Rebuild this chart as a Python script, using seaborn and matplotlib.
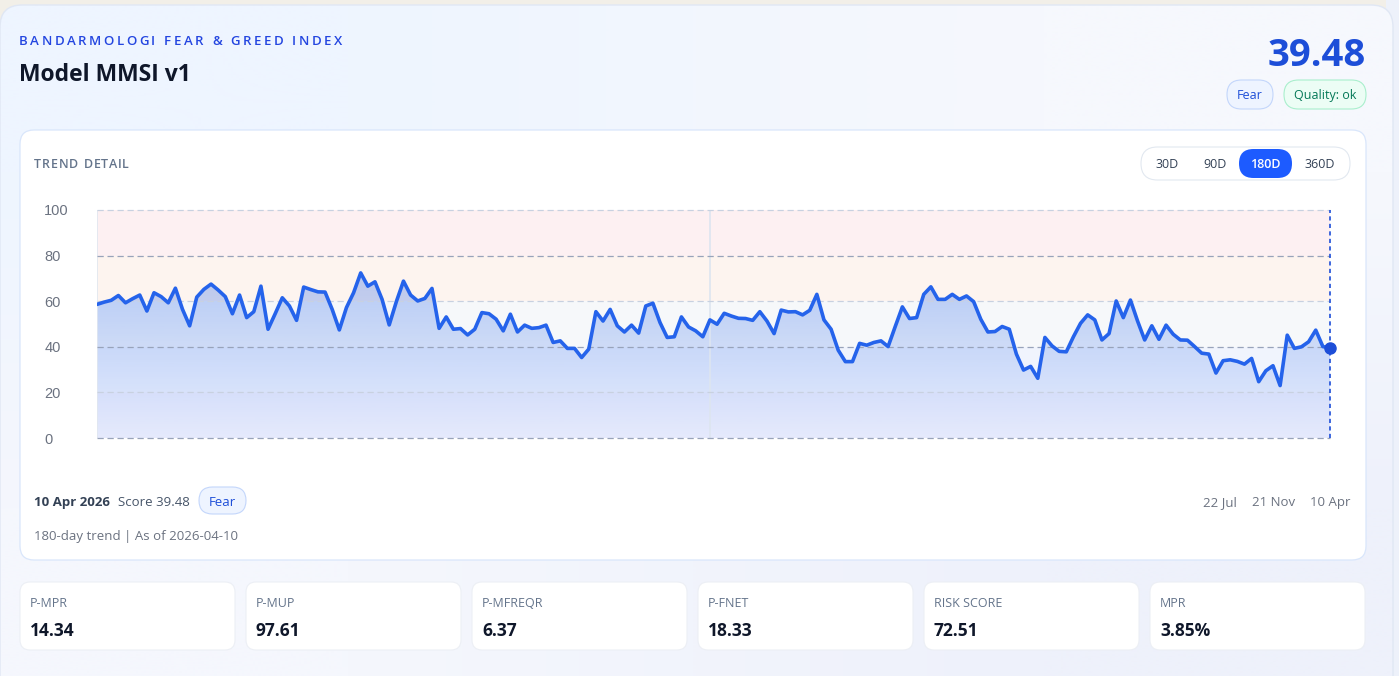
import numpy as np
import matplotlib.pyplot as plt
import matplotlib.colors as mcolors
from matplotlib.patches import FancyBboxPatch, Rectangle
import seaborn as sns

# MMSI score, 180-day window
scores = [58.6, 59.6, 60.4, 62.5, 59.3, 61.1, 62.7, 55.7, 63.7, 62.0,
          59.3, 65.7, 56.4, 49.2, 61.8, 65.2, 67.5, 64.9, 62.0, 54.5,
          62.7, 52.8, 55.4, 66.6, 47.7, 54.5, 61.5, 57.9, 51.6, 66.2,
          65.1, 64.1, 64.0, 56.4, 47.4, 57.2, 63.7, 72.4, 66.6, 68.5,
          60.8, 49.6, 59.8, 68.8, 62.7, 60.1, 61.2, 65.6, 48.1, 53.1,
          47.7, 48.0, 45.2, 47.7, 55.0, 54.5, 52.1, 47.0, 54.3, 46.5,
          49.5, 48.1, 48.4, 49.5, 41.9, 42.6, 39.3, 39.3, 35.3, 39.0,
          55.4, 51.3, 56.4, 49.2, 46.5, 49.5, 46.0, 57.9, 59.1, 50.6,
          44.1, 44.4, 53.1, 48.7, 47.0, 44.4, 51.8, 49.9, 54.7, 53.5,
          52.5, 52.4, 51.6, 55.4, 51.3, 45.8, 56.1, 55.3, 55.4, 54.0,
          56.0, 63.0, 51.8, 47.7, 38.5, 33.5, 33.5, 41.5, 40.7, 41.9,
          42.6, 40.1, 48.9, 57.5, 52.4, 52.8, 63.0, 66.3, 60.8, 60.8,
          63.0, 60.8, 62.3, 59.8, 52.1, 46.5, 46.7, 48.9, 47.7, 36.8,
          29.8, 31.4, 26.2, 44.1, 40.4, 38.0, 37.8, 44.4, 50.3, 54.0,
          51.8, 43.0, 45.8, 60.1, 52.8, 60.5, 51.3, 43.0, 49.2, 43.3,
          49.5, 45.5, 43.0, 42.9, 40.1, 37.2, 36.8, 28.5, 33.9, 34.3,
          33.6, 32.4, 34.9, 24.7, 29.5, 31.7, 23.0, 45.1, 39.3, 40.0,
          42.2, 47.3, 40.1, 39.48]
year_break = 86  # index of the faint vertical divider

zone_edges = [0, 20, 40, 60, 80, 100]
zone_colors = ['#eef0fd', '#f0f4fd', '#f6f8fa', '#fdf4ef', '#fdf0f2']
y_ticks = [0, 20, 40, 60, 80, 100]
date_labels = ['22 Jul', '21 Nov', '10 Apr']
ranges = ['30D', '90D', '180D', '360D']
active_range = '180D'

stat_names = ['P-MPR', 'P-MUP', 'P-MFREQR', 'P-FNET', 'RISK SCORE', 'MPR']
stat_values = ['14.34', '97.61', '6.37', '18.33', '72.51', '3.85%']

current = '39.48'
label = 'Fear'
quality = 'Quality: ok'

sns.set_style('white')
plt.rcParams['font.family'] = ['Open Sans', 'DejaVu Sans']

W, H = 1399, 676
fig = plt.figure(figsize=(W / 100, H / 100), dpi=100)
fig.patch.set_facecolor('#f2efe8')

bg = fig.add_axes([0, 0, 1, 1])
bg.set_zorder(0)
bg.axis('off')


def box(x0, y0, x1, y1, r, fc, ec, lw=0.8, z=1):
    p = FancyBboxPatch((x0, y0), x1 - x0, y1 - y0,
                       boxstyle=f'round,pad=0,rounding_size={r}',
                       fc=fc, ec=ec, lw=lw, zorder=z)
    bg.add_patch(p)
    return p


def spaced(x, y, s, width, **kw):
    # text with letter spacing so that it spans `width` pixels
    r = fig.canvas.get_renderer()

    def w(t):
        probe = bg.text(0, 0, t, **kw)
        v = probe.get_window_extent(r).width
        probe.remove()
        return v
    wI = w('I')
    natural = w(s + 'I') - wI
    track = (width - natural) / (len(s) - 1)
    for i, ch in enumerate(s):
        if ch != ' ':
            bg.text(x + w(s[:i] + 'I') - wI + i * track, y, ch, **kw)


# page background + outer card with soft gradient
bg.add_patch(Rectangle((1386, 0), 13, H, fc='#edf1fa', lw=0, zorder=0.2))
outer = box(0, 5, 1393, 700, 22, 'none', '#e0e7f4', lw=1, z=0.6)
grad = np.array([[mcolors.to_rgb('#eef5ff'), mcolors.to_rgb('#f6f8fd')],
                 [mcolors.to_rgb('#f5f7fd'), mcolors.to_rgb('#eef1fb')]])
im = bg.imshow(grad, extent=[0, 1393, 676, 5], interpolation='bilinear',
               aspect='auto', zorder=0.5)
im.set_clip_path(outer)
bg.set_xlim(0, W)
bg.set_ylim(H, 0)

# header
spaced(19, 45, 'BANDARMOLOGI FEAR & GREED INDEX', 323, fontsize=9.5,
       fontweight='semibold', color='#2446e0', va='baseline', zorder=3)
bg.text(19, 81, 'Model MMSI v1', fontsize=16.5, fontweight='bold',
        color='#0f172a', va='baseline', zorder=3)
bg.text(1366, 66.5, current, ha='right', va='baseline', fontsize=27.5,
        fontweight='bold', color='#1d4ed8', zorder=3)
box(1227, 80, 1273, 109, 14.5, '#eef4ff', '#c3d6fb')
bg.text(1250, 99, label, ha='center', va='baseline', fontsize=9,
        fontweight='medium', color='#1d4ed8', zorder=3)
box(1284, 80, 1366, 109, 14.5, '#ecfdf5', '#a9efcd')
bg.text(1325, 99, quality, ha='center', va='baseline', fontsize=9,
        fontweight='medium', color='#047857', zorder=3)

# chart card
box(20, 130, 1366, 560, 14, 'white', '#d9e6fb', lw=0.9)
spaced(34, 168, 'TREND DETAIL', 95, fontsize=9, fontweight='semibold',
       color='#64748b', va='baseline', zorder=3)
box(1141, 147, 1350, 180, 16.5, 'white', '#e2e8f0')
range_x = [1167, 1215, 1265, 1320]
for name, cx in zip(ranges, range_x):
    if name == active_range:
        box(1239, 149, 1292, 178, 14.5, '#1d5bff', 'none', lw=0, z=2)
        bg.text(cx, 168.5, name, ha='center', va='baseline', fontsize=9,
                fontweight='semibold', color='white', zorder=3)
    else:
        bg.text(cx, 168.5, name, ha='center', va='baseline', fontsize=9,
                color='#334155', zorder=3)

bg.text(34, 506, '10 Apr 2026', fontsize=9.5, fontweight='bold',
        color='#334155', va='baseline', zorder=3)
bg.text(118, 506, 'Score ' + current, fontsize=9.5, color='#475569',
        va='baseline', zorder=3)
box(199, 487, 246, 514, 13.5, '#eef4ff', '#c3d6fb')
bg.text(222.5, 506, label, ha='center', va='baseline', fontsize=9.5,
        fontweight='medium', color='#1d4ed8', zorder=3)
bg.text(34, 540, '180-day trend | As of 2026-04-10', fontsize=9.5,
        color='#6b7280', va='baseline', zorder=3)
for d, rx in zip(date_labels, [1237, 1295, 1350]):
    bg.text(rx, 506, d, ha='right', va='baseline', fontsize=9.5,
            color='#6b7280', zorder=3)

# stat cards
for i, (name, val) in enumerate(zip(stat_names, stat_values)):
    x0 = 20 + i * 226
    box(x0, 582, x0 + 215, 650, 10, 'white', '#eceff5')
    bg.text(x0 + 10, 607, name, fontsize=9, color='#64748b',
            va='baseline', zorder=3)
    bg.text(x0 + 10, 636, val, fontsize=12.5, fontweight='bold',
            color='#0f172a', va='baseline', zorder=3)

# trend chart
ax = fig.add_axes([97 / W, 1 - 438 / H, (1330 - 97) / W, (438 - 210) / H])
ax.set_zorder(2)
ax.patch.set_alpha(0)
n = len(scores)
x = np.arange(n)

for lo, hi, c in zip(zone_edges[:-1], zone_edges[1:], zone_colors):
    ax.axhspan(lo, hi, color=c, lw=0, zorder=0)

poly = ax.fill_between(x, scores, 0, color='none', lw=0)
shade = np.zeros((256, 1, 4))
shade[..., :3] = mcolors.to_rgb('#2563eb')
shade[:, 0, 3] = np.linspace(0.045, 0.42, 256)
fill = ax.imshow(shade, extent=[0, n - 1, 0, 100], origin='lower',
                 aspect='auto', interpolation='bilinear', zorder=1)
fill.set_clip_path(poly.get_paths()[0], transform=ax.transData)

for v in y_ticks:
    dark = v in (0, 40, 80)
    ax.axhline(v, color='#98a3ba' if dark else '#c8d1e0', lw=0.9,
               ls=(0, (5, 3)), zorder=2, clip_on=False)
ax.axvline(0, color='#e1e7f0', lw=1.2, zorder=1.5)
ax.axvline(year_break, color='#dde5f0', lw=1.2, zorder=1.5)

sns.lineplot(x=x, y=scores, ax=ax, color='#2563eb', linewidth=2.6, zorder=4)
ax.axvline(n - 1, color='#1d4ed8', lw=1.2, ls=(0, (2.5, 2)), zorder=3,
           clip_on=False)
ax.plot([n - 1], [scores[-1]], 'o', ms=8, color='#1d4ed8', zorder=5,
        clip_on=False)

ax.set_xlim(0, n - 1)
ax.set_ylim(0, 100)
ax.set_xticks([])
ax.set_yticks(y_ticks)
ax.set_yticklabels([str(v) for v in y_ticks], ha='left',
                   family='Liberation Sans')
ax.tick_params(axis='y', length=0, pad=38, labelsize=10.5,
               labelcolor='#6b7280')
ax.set_xlabel('')
ax.set_ylabel('')
for s in ax.spines.values():
    s.set_visible(False)

fig.savefig('out.png', dpi=100, facecolor=fig.get_facecolor())
